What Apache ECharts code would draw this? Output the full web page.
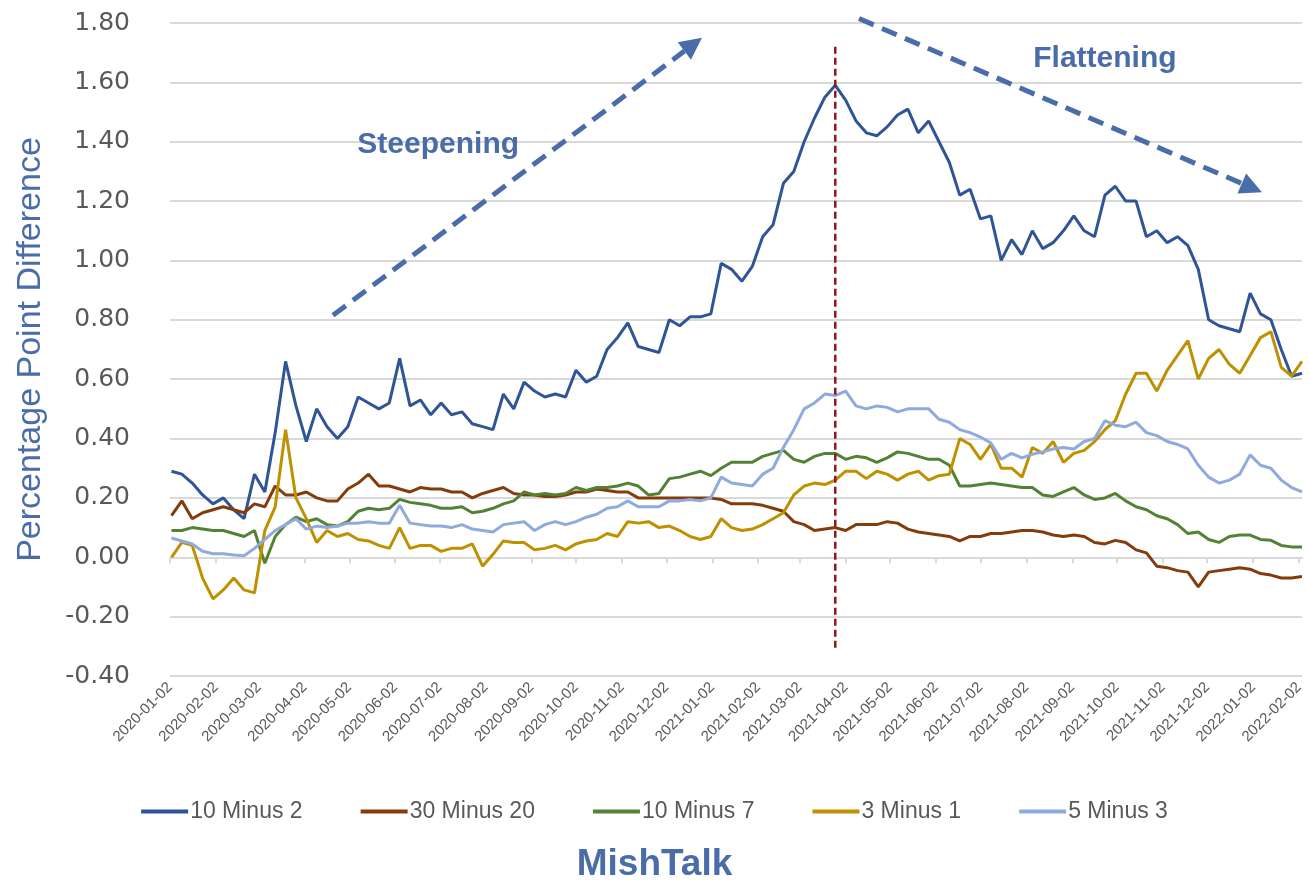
<!DOCTYPE html>
<html>
<head>
<meta charset="utf-8">
<title>Yield curve spreads</title>
<script src="https://cdn.jsdelivr.net/npm/echarts@6/dist/echarts.min.js"></script>
<style>
  html, body { margin: 0; padding: 0; background: #fff; }
  #main { width: 1309px; height: 881px; }
</style>
</head>
<body>
<div id="main"></div>
<script>
// weekly readings (Fridays), first one on 2020-01-03
var startDate = '2020-01-03';
var seriesNames = ['10 Minus 2', '30 Minus 20', '10 Minus 7', '3 Minus 1', '5 Minus 3'];
var seriesColors = ['#2f5597', '#843c0c', '#548235', '#bf9000', '#8faadc'];

var tenMinus2 = [
  0.29, 0.28, 0.25, 0.21, 0.18, 0.20, 0.16, 0.13, 0.28, 0.22,
  0.42, 0.66, 0.51, 0.39, 0.50, 0.44, 0.40, 0.44, 0.54, 0.52,
  0.50, 0.52, 0.67, 0.51, 0.53, 0.48, 0.52, 0.48, 0.49, 0.45,
  0.44, 0.43, 0.55, 0.50, 0.59, 0.56, 0.54, 0.55, 0.54, 0.63,
  0.59, 0.61, 0.70, 0.74, 0.79, 0.71, 0.70, 0.69, 0.80, 0.78,
  0.81, 0.81, 0.82, 0.99, 0.97, 0.93, 0.98, 1.08, 1.12, 1.26,
  1.30, 1.40, 1.48, 1.55, 1.59, 1.54, 1.47, 1.43, 1.42, 1.45,
  1.49, 1.51, 1.43, 1.47, 1.40, 1.33, 1.22, 1.24, 1.14, 1.15,
  1.00, 1.07, 1.02, 1.10, 1.04, 1.06, 1.10, 1.15, 1.10, 1.08,
  1.22, 1.25, 1.20, 1.20, 1.08, 1.10, 1.06, 1.08, 1.05, 0.97,
  0.80, 0.78, 0.77, 0.76, 0.89, 0.82, 0.80, 0.70, 0.61, 0.62
];
var thirtyMinus20 = [
  0.14, 0.19, 0.13, 0.15, 0.16, 0.17, 0.16, 0.15, 0.18, 0.17,
  0.24, 0.21, 0.21, 0.22, 0.20, 0.19, 0.19, 0.23, 0.25, 0.28,
  0.24, 0.24, 0.23, 0.22, 0.235, 0.23, 0.23, 0.22, 0.22, 0.20,
  0.215, 0.225, 0.235, 0.215, 0.21, 0.21, 0.205, 0.205, 0.21, 0.22,
  0.22, 0.23, 0.225, 0.22, 0.22, 0.20, 0.20, 0.20, 0.20, 0.20,
  0.20, 0.20, 0.20, 0.195, 0.18, 0.18, 0.18, 0.175, 0.165, 0.155,
  0.12, 0.11, 0.09, 0.095, 0.10, 0.09, 0.11, 0.11, 0.11, 0.12,
  0.115, 0.095, 0.085, 0.08, 0.075, 0.07, 0.055, 0.07, 0.07, 0.08,
  0.08, 0.085, 0.09, 0.09, 0.085, 0.075, 0.07, 0.075, 0.07, 0.05,
  0.045, 0.057, 0.05, 0.025, 0.015, -0.03, -0.035, -0.045, -0.05, -0.10,
  -0.05, -0.045, -0.04, -0.035, -0.04, -0.055, -0.06, -0.07, -0.07, -0.065
];
var tenMinus7 = [
  0.09, 0.09, 0.10, 0.095, 0.09, 0.09, 0.08, 0.07, 0.09, -0.02,
  0.07, 0.11, 0.135, 0.12, 0.13, 0.11, 0.105, 0.12, 0.155, 0.165,
  0.16, 0.165, 0.195, 0.185, 0.18, 0.175, 0.165, 0.165, 0.17, 0.15,
  0.155, 0.165, 0.18, 0.19, 0.22, 0.21, 0.215, 0.21, 0.215, 0.235,
  0.225, 0.235, 0.235, 0.24, 0.25, 0.24, 0.21, 0.215, 0.265, 0.27,
  0.28, 0.29, 0.275, 0.30, 0.32, 0.32, 0.32, 0.34, 0.35, 0.36,
  0.33, 0.32, 0.34, 0.35, 0.35, 0.33, 0.34, 0.335, 0.32, 0.335,
  0.355, 0.35, 0.34, 0.33, 0.33, 0.31, 0.24, 0.24, 0.245, 0.25,
  0.245, 0.24, 0.235, 0.235, 0.21, 0.205, 0.22, 0.235, 0.21, 0.195,
  0.20, 0.215, 0.19, 0.17, 0.16, 0.14, 0.13, 0.11, 0.08, 0.085,
  0.06, 0.05, 0.07, 0.075, 0.075, 0.06, 0.057, 0.04, 0.035, 0.035
];
var threeMinus1 = [
  0.00, 0.05, 0.04, -0.07, -0.14, -0.11, -0.07, -0.11, -0.12, 0.09,
  0.17, 0.43, 0.20, 0.13, 0.05, 0.09, 0.07, 0.08, 0.06, 0.055,
  0.04, 0.03, 0.10, 0.03, 0.04, 0.04, 0.02, 0.03, 0.03, 0.045,
  -0.03, 0.01, 0.055, 0.05, 0.05, 0.025, 0.03, 0.04, 0.025, 0.045,
  0.055, 0.06, 0.08, 0.07, 0.12, 0.115, 0.12, 0.10, 0.105, 0.09,
  0.07, 0.06, 0.07, 0.13, 0.10, 0.09, 0.095, 0.11, 0.13, 0.15,
  0.21, 0.24, 0.25, 0.245, 0.26, 0.29, 0.29, 0.265, 0.29, 0.28,
  0.26, 0.28, 0.29, 0.26, 0.275, 0.28, 0.40, 0.38, 0.33, 0.38,
  0.30, 0.30, 0.27, 0.37, 0.35, 0.39, 0.32, 0.35, 0.36, 0.39,
  0.43, 0.46, 0.55, 0.62, 0.62, 0.56, 0.63, 0.68, 0.73, 0.60,
  0.67, 0.70, 0.65, 0.62, 0.68, 0.74, 0.76, 0.64, 0.61, 0.66
];
var fiveMinus3 = [
  0.065, 0.055, 0.045, 0.02, 0.012, 0.012, 0.008, 0.005, 0.03, 0.06,
  0.09, 0.11, 0.13, 0.095, 0.105, 0.10, 0.105, 0.115, 0.115, 0.12,
  0.115, 0.115, 0.175, 0.115, 0.11, 0.105, 0.105, 0.10, 0.11, 0.095,
  0.09, 0.085, 0.11, 0.115, 0.12, 0.09, 0.11, 0.12, 0.11, 0.12,
  0.135, 0.145, 0.165, 0.17, 0.19, 0.17, 0.17, 0.17, 0.19, 0.19,
  0.195, 0.19, 0.20, 0.27, 0.25, 0.245, 0.24, 0.28, 0.30, 0.37,
  0.43, 0.50, 0.52, 0.55, 0.545, 0.56, 0.51, 0.50, 0.51, 0.505,
  0.49, 0.50, 0.50, 0.50, 0.465, 0.455, 0.43, 0.42, 0.405, 0.385,
  0.33, 0.35, 0.335, 0.347, 0.355, 0.365, 0.37, 0.365, 0.39, 0.40,
  0.46, 0.445, 0.44, 0.455, 0.42, 0.41, 0.39, 0.38, 0.365, 0.31,
  0.27, 0.25, 0.26, 0.28, 0.345, 0.31, 0.30, 0.26, 0.235, 0.22
];

// x axis tick labels (one per month)
var monthLabels = [
  '2020-01-02', '2020-02-02', '2020-03-02', '2020-04-02', '2020-05-02', '2020-06-02',
  '2020-07-02', '2020-08-02', '2020-09-02', '2020-10-02', '2020-11-02', '2020-12-02',
  '2021-01-02', '2021-02-02', '2021-03-02', '2021-04-02', '2021-05-02', '2021-06-02',
  '2021-07-02', '2021-08-02', '2021-09-02', '2021-10-02', '2021-11-02', '2021-12-02',
  '2022-01-02', '2022-02-02'
];

// dates handled as UTC milliseconds on a plain value axis
function ts(s) {
  var p = s.split('-');
  return Date.UTC(+p[0], p[1] - 1, +p[2]);
}
function fmtDate(t) {
  var d = new Date(t);
  var m = d.getUTCMonth() + 1, dd = d.getUTCDate();
  return d.getUTCFullYear() + '-' + (m < 10 ? '0' + m : m) + '-' + (dd < 10 ? '0' + dd : dd);
}

var dates = [];
for (var i = 0; i < tenMinus2.length; i++) {
  dates.push(ts(startDate) + i * 7 * 86400000);
}
var tickValues = monthLabels.map(ts);
var allValues = [tenMinus2, thirtyMinus20, tenMinus7, threeMinus1, fiveMinus3];

var grey = '#595959';
var gridGrey = '#d9d9d9';
var noteBlue = '#4a6da9';
var sans = '"Liberation Sans", Arial, sans-serif';

var chart = echarts.init(document.getElementById('main'));

chart.setOption({
  animation: false,
  backgroundColor: '#ffffff',
  title: {
    text: 'MishTalk',
    left: 'center',
    top: 841,
    textStyle: { color: noteBlue, fontSize: 37, fontWeight: 'bold', fontFamily: sans }
  },
  legend: {
    data: seriesNames,
    top: 795,
    left: 'center',
    icon: 'rect',
    itemWidth: 47,
    itemHeight: 4,
    itemGap: 58,
    textStyle: { color: grey, fontSize: 23, fontFamily: sans, padding: [0, 0, 0, -3] }
  },
  grid: { left: 170, right: 7, top: 23, bottom: 205 },
  xAxis: [
    {
      // labels along the bottom
      type: 'value',
      position: 'bottom',
      min: ts('2020-01-02'),
      max: dates[dates.length - 1],
      axisLine: { show: false, onZero: false },
      axisTick: { show: false },
      splitLine: { show: false },
      axisLabel: {
        customValues: tickValues,
        rotate: 45,
        margin: 9,
        color: grey,
        fontSize: 15,
        fontFamily: sans,
        formatter: function (v) { return fmtDate(v); }
      }
    },
    {
      // axis line with month ticks sitting on 0.00
      type: 'value',
      position: 'bottom',
      min: ts('2020-01-02'),
      max: dates[dates.length - 1],
      axisLine: { show: true, onZero: true, lineStyle: { color: gridGrey, width: 2 } },
      axisTick: { show: true, customValues: tickValues, length: 6, lineStyle: { color: gridGrey, width: 2 } },
      axisLabel: { show: false },
      splitLine: { show: false }
    }
  ],
  yAxis: {
    type: 'value',
    min: -0.4,
    max: 1.8,
    interval: 0.2,
    name: 'Percentage Point Difference',
    nameLocation: 'middle',
    nameGap: 122,
    nameTextStyle: { color: noteBlue, fontSize: 34, fontFamily: sans },
    axisLine: { show: false },
    axisTick: { show: false },
    axisLabel: {
      color: grey,
      fontSize: 25,
      fontFamily: 'DejaVu Sans',
      margin: 40,
      formatter: function (v) { return v.toFixed(2); }
    },
    splitLine: { lineStyle: { color: gridGrey, width: 2 } }
  },
  series: seriesNames.map(function (name, k) {
    return {
      name: name,
      type: 'line',
      xAxisIndex: 0,
      showSymbol: false,
      symbol: 'none',
      color: seriesColors[k],
      lineStyle: { width: 3, color: seriesColors[k] },
      data: dates.map(function (d, i) { return [d, allValues[k][i]]; })
    };
  })
});

// annotations placed in data space
function pt(d, v) {
  return chart.convertToPixel({ xAxisIndex: 0, yAxisIndex: 0 }, [ts(d), v]);
}
function arrow(a, b, color) {
  var dx = b[0] - a[0], dy = b[1] - a[1];
  var len = Math.sqrt(dx * dx + dy * dy);
  var ux = dx / len, uy = dy / len;
  var head = 22, half = 11;
  var bx = b[0] - ux * head, by = b[1] - uy * head;
  return [
    { type: 'line', z: 50, shape: { x1: a[0], y1: a[1], x2: bx, y2: by },
      style: { stroke: color, lineWidth: 5, lineDash: [16, 9] } },
    { type: 'polygon', z: 50,
      shape: { points: [[b[0], b[1]], [bx - uy * half, by + ux * half], [bx + uy * half, by - ux * half]] },
      style: { fill: color } }
  ];
}

var steepA = pt('2020-04-21', 0.815), steepB = pt('2020-12-26', 1.75);
var flatA = pt('2021-04-11', 1.815), flatB = pt('2022-01-08', 1.23);
var vTop = pt('2021-03-26', 1.72), vBot = pt('2021-03-26', -0.31);
var steepText = pt('2020-07-01', 1.39), flatText = pt('2021-09-24', 1.68);

var notes = [].concat(
  arrow(steepA, steepB, noteBlue),
  arrow(flatA, flatB, noteBlue),
  [
    { type: 'line', z: 60, shape: { x1: vTop[0], y1: vTop[1], x2: vBot[0], y2: vBot[1] },
      style: { stroke: '#8b1a1a', lineWidth: 2.5, lineDash: [7, 4] } },
    { type: 'text', z: 50, x: steepText[0], y: steepText[1],
      style: { text: 'Steepening', fill: noteBlue, font: 'bold 30px "Liberation Sans"', align: 'center', verticalAlign: 'middle' } },
    { type: 'text', z: 50, x: flatText[0], y: flatText[1],
      style: { text: 'Flattening', fill: noteBlue, font: 'bold 30px "Liberation Sans"', align: 'center', verticalAlign: 'middle' } }
  ]
);
chart.setOption({ graphic: notes });
</script>
</body>
</html>
